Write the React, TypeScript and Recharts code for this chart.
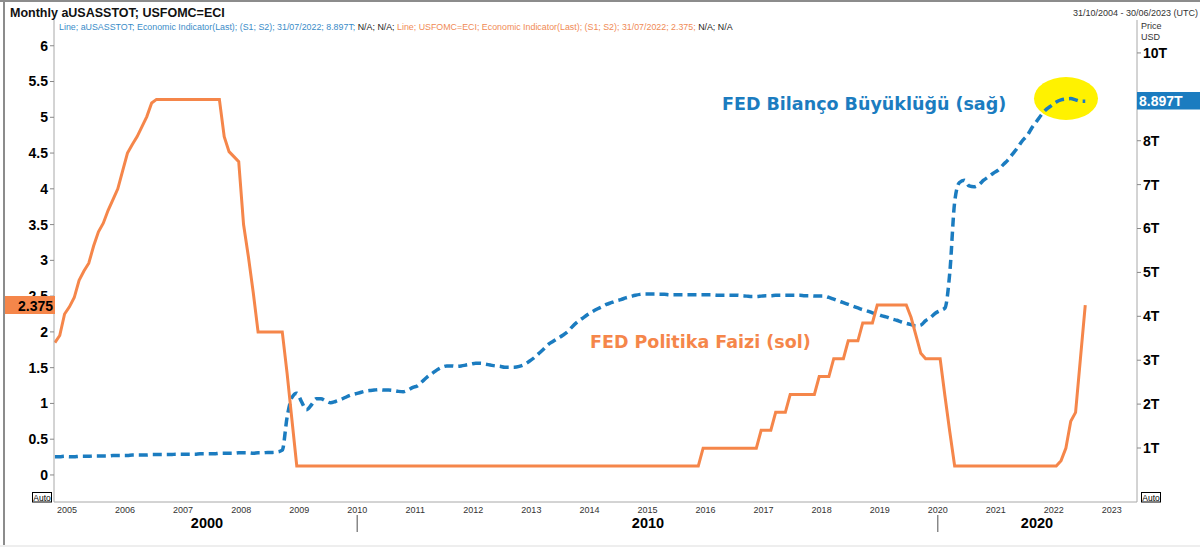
import React from "react";
import { LineChart, Line, XAxis, YAxis } from "recharts";

const FONT = "'Liberation Sans', Arial, Helvetica, sans-serif";
const WIDE_FONT = "'DejaVu Sans', Verdana, sans-serif";
const ORANGE = "#F5864A";
const BLUE = "#1B7CC0";

// monthly series, first point = October 2004
const START_YEAR = 2004;
const START_MONTH = 10;

// FED policy rate (left axis, %)
const FED_RATE = [
  1.85, 1.95, 2.25,
  2.35, 2.48, 2.72, 2.85, 2.96, 3.2, 3.4, 3.52, 3.7, 3.85, 4.0, 4.25,
  4.5, 4.62, 4.73, 4.87, 5.01, 5.2, 5.25, 5.25, 5.25, 5.25, 5.25, 5.25,
  5.25, 5.25, 5.25, 5.25, 5.25, 5.25, 5.25, 5.25, 4.73, 4.52, 4.45, 4.38,
  3.5, 3.05, 2.55, 2.0, 2.0, 2.0, 2.0, 2.0, 2.0, 1.42, 0.77, 0.125,
  0.125, 0.125, 0.125, 0.125, 0.125, 0.125, 0.125, 0.125, 0.125, 0.125, 0.125, 0.125,
  0.125, 0.125, 0.125, 0.125, 0.125, 0.125, 0.125, 0.125, 0.125, 0.125, 0.125, 0.125,
  0.125, 0.125, 0.125, 0.125, 0.125, 0.125, 0.125, 0.125, 0.125, 0.125, 0.125, 0.125,
  0.125, 0.125, 0.125, 0.125, 0.125, 0.125, 0.125, 0.125, 0.125, 0.125, 0.125, 0.125,
  0.125, 0.125, 0.125, 0.125, 0.125, 0.125, 0.125, 0.125, 0.125, 0.125, 0.125, 0.125,
  0.125, 0.125, 0.125, 0.125, 0.125, 0.125, 0.125, 0.125, 0.125, 0.125, 0.125, 0.125,
  0.125, 0.125, 0.125, 0.125, 0.125, 0.125, 0.125, 0.125, 0.125, 0.125, 0.125, 0.375,
  0.375, 0.375, 0.375, 0.375, 0.375, 0.375, 0.375, 0.375, 0.375, 0.375, 0.375, 0.625,
  0.625, 0.625, 0.875, 0.875, 0.875, 1.125, 1.125, 1.125, 1.125, 1.125, 1.125, 1.375,
  1.375, 1.375, 1.625, 1.625, 1.625, 1.875, 1.875, 1.875, 2.125, 2.125, 2.125, 2.375,
  2.375, 2.375, 2.375, 2.375, 2.375, 2.375, 2.2, 1.95, 1.7, 1.625, 1.625, 1.625,
  1.625, 1.1, 0.6, 0.125, 0.125, 0.125, 0.125, 0.125, 0.125, 0.125, 0.125, 0.125,
  0.125, 0.125, 0.125, 0.125, 0.125, 0.125, 0.125, 0.125, 0.125, 0.125, 0.125, 0.125,
  0.125, 0.2, 0.375, 0.75, 0.875, 1.625, 2.375,
];

// FED balance sheet size (right axis, trillion USD)
const BALANCE = [
  0.8, 0.8, 0.81,
  0.8, 0.8, 0.81, 0.81, 0.81, 0.82, 0.82, 0.82, 0.82, 0.83, 0.83, 0.83,
  0.83, 0.84, 0.84, 0.84, 0.84, 0.85, 0.85, 0.85, 0.85, 0.85, 0.86, 0.86,
  0.86, 0.86, 0.86, 0.87, 0.87, 0.87, 0.87, 0.88, 0.88, 0.88, 0.88, 0.89,
  0.89, 0.89, 0.88, 0.89, 0.89, 0.9, 0.9, 0.91, 0.95, 1.7, 2.15, 2.25,
  2.05, 1.87, 1.98, 2.12, 2.12, 2.07, 2.03, 2.06, 2.1, 2.15, 2.2, 2.23,
  2.26, 2.29, 2.31, 2.32, 2.33, 2.32, 2.32, 2.31, 2.29, 2.28, 2.32, 2.38,
  2.42, 2.52, 2.62, 2.7, 2.78, 2.84, 2.87, 2.87, 2.86, 2.87, 2.89, 2.91,
  2.93, 2.93, 2.91, 2.89, 2.87, 2.86, 2.84, 2.84, 2.84, 2.86, 2.9, 2.97,
  3.05, 3.15, 3.25, 3.36, 3.43, 3.5, 3.57, 3.65, 3.77, 3.87, 3.95, 4.03,
  4.1, 4.16, 4.21, 4.27, 4.31, 4.35, 4.38, 4.42, 4.45, 4.48, 4.5, 4.51,
  4.51, 4.51, 4.5, 4.5, 4.49, 4.49, 4.49, 4.49, 4.49, 4.49, 4.49, 4.49,
  4.49, 4.49, 4.48, 4.48, 4.48, 4.48, 4.48, 4.47, 4.46, 4.45, 4.45, 4.46,
  4.47, 4.47, 4.48, 4.48, 4.48, 4.48, 4.48, 4.48, 4.47, 4.47, 4.46, 4.46,
  4.46, 4.43, 4.39, 4.35, 4.31, 4.27, 4.23, 4.19, 4.15, 4.12, 4.08, 4.05,
  4.01, 3.98, 3.94, 3.91, 3.87, 3.84, 3.81, 3.78, 3.8, 3.9, 3.97, 4.07,
  4.13, 4.19, 5.0, 6.6, 7.05, 7.1, 6.97, 6.95, 7.0, 7.1, 7.18, 7.26,
  7.33, 7.45, 7.56, 7.7, 7.84, 8.0, 8.12, 8.3, 8.45, 8.6, 8.72, 8.8,
  8.88, 8.93, 8.95, 8.96, 8.93, 8.9, 8.897,
];

const YEARS = [2005, 2006, 2007, 2008, 2009, 2010, 2011, 2012, 2013, 2014, 2015, 2016, 2017, 2018, 2019, 2020, 2021, 2022, 2023];
const DECADE_BREAKS = [2010, 2020];
const DECADE_LABELS = ["2000", "2010", "2020"];
const LEFT_TICKS = [0, 0.5, 1, 1.5, 2, 2.5, 3, 3.5, 4, 4.5, 5, 5.5, 6];
// 9T is hidden behind the last-value box in the reference
const RIGHT_TICKS = [1, 2, 3, 4, 5, 6, 7, 8, 10];
const X_DOMAIN = [2004.776, 2023.433];
const LEFT_DOMAIN = [-0.378, 6.36];
const RIGHT_DOMAIN = [-0.23, 10.75];

const LAST_RATE = "2.375";
const LAST_BALANCE = "8.897T";

const rows = FED_RATE.map((rate, i) => ({
  t: START_YEAR + (START_MONTH - 1 + i + 0.5) / 12,
  rate,
  bal: BALANCE[i],
}));

const YearTick = (p: any) => (
  <text x={p.x} y={p.y} dy={7} textAnchor="middle" fontSize={9} fill="#333" fontFamily={FONT}>
    {p.payload.value}
  </text>
);

const DecadeTick = (p: any) => (
  <line x1={p.x} x2={p.x} y1={p.y + 1} y2={p.y + 18} stroke="#888" strokeWidth={1.5} />
);

export default function App() {
  return (
    <div style={{ position: "relative", width: 1200, height: 547, background: "#fff", overflow: "hidden", fontFamily: FONT }}>
      <style>{`html,body{margin:0;padding:0;background:#fff}`}</style>
      <div style={{ position: "absolute", left: 0, top: 0, width: 1200, height: 2, background: "#8c8c8c" }} />
      <div style={{ position: "absolute", left: 3, top: 0, width: 2, height: 545, background: "#8c8c8c" }} />
      <div style={{ position: "absolute", left: 0, top: 545, width: 1200, height: 2, background: "#eeeeee" }} />
      <div style={{ position: "absolute", left: 1034, top: 77, width: 64, height: 43, borderRadius: "50%", background: "#FFF200" }} />
      <div style={{ position: "absolute", left: 0, top: 0 }}>
        <LineChart width={1200} height={547} data={rows} margin={{ top: 20, right: 0, bottom: 0, left: 0 }}>
          <XAxis xAxisId="top" orientation="top" dataKey="t" type="number" domain={X_DOMAIN} allowDataOverflow height={0} tick={false} tickLine={false} axisLine={{ stroke: "#a8a8a8" }} />
          <XAxis dataKey="t" type="number" domain={X_DOMAIN} allowDataOverflow ticks={YEARS} interval={0} height={12} tickSize={0} tickMargin={4} tick={<YearTick />} tickLine={false} axisLine={{ stroke: "#a8a8a8" }} />
          <XAxis xAxisId="dec" dataKey="t" type="number" domain={X_DOMAIN} allowDataOverflow ticks={DECADE_BREAKS} interval={0} height={33} tickSize={0} tickMargin={0} tick={<DecadeTick />} tickLine={false} axisLine={false} />
          <YAxis yAxisId="left" orientation="left" width={54} type="number" domain={LEFT_DOMAIN} allowDataOverflow ticks={LEFT_TICKS} interval={0} tickSize={4} tickMargin={2} tick={{ fontSize: 14, fontWeight: 700, fill: "#000", fontFamily: FONT }} tickLine={{ stroke: "#888" }} axisLine={{ stroke: "#a8a8a8" }} />
          <YAxis yAxisId="right" orientation="right" width={63} type="number" domain={RIGHT_DOMAIN} allowDataOverflow ticks={RIGHT_TICKS} interval={0} tickSize={4} tickMargin={2} tickFormatter={(v: number) => `${v}T`} tick={{ fontSize: 14, fontWeight: 700, fill: "#000", fontFamily: FONT }} tickLine={{ stroke: "#888" }} axisLine={{ stroke: "#a8a8a8" }} />
          <Line yAxisId="right" dataKey="bal" type="monotone" stroke={BLUE} strokeWidth={3.5} strokeDasharray="9 5" dot={false} activeDot={false} isAnimationActive={false} />
          <Line yAxisId="left" dataKey="rate" type="linear" stroke={ORANGE} strokeWidth={3} dot={false} activeDot={false} isAnimationActive={false} />
        </LineChart>
      </div>
      <svg width={1200} height={547} style={{ position: "absolute", left: 0, top: 0, pointerEvents: "none" }} fontFamily={FONT}>
        <text x={10} y={17} fontSize={12.5} fontWeight={700} fill="#111">Monthly aUSASSTOT; USFOMC=ECI</text>
        <text x={1198} y={16} fontSize={9} fill="#333" textAnchor="end">31/10/2004 - 30/06/2023 (UTC)</text>
        <text x={59} y={30} fontSize={8.85}>
          <tspan fill="#3a8cc8">Line; aUSASSTOT; Economic Indicator(Last); (S1; S2); 31/07/2022; 8.897T; </tspan>
          <tspan fill="#222">N/A; N/A; </tspan>
          <tspan fill="#f08a55">Line; USFOMC=ECI; Economic Indicator(Last); (S1; S2); 31/07/2022; 2.375; </tspan>
          <tspan fill="#222">N/A; N/A</tspan>
        </text>
        <text x={1141} y={29} fontSize={9} fill="#333">Price</text>
        <text x={1141} y={40} fontSize={9} fill="#333">USD</text>
        <text x={722} y={110} fontSize={17.5} fontWeight={700} fill={BLUE} fontFamily={WIDE_FONT}>FED Bilanço Büyüklüğü (sağ)</text>
        <text x={590} y={348} fontSize={17.5} fontWeight={700} fill={ORANGE} fontFamily={WIDE_FONT}>FED Politika Faizi (sol)</text>
        <text x={207} y={528} fontSize={14.5} fontWeight={700} fill="#000" textAnchor="middle">{DECADE_LABELS[0]}</text>
        <text x={648} y={528} fontSize={14.5} fontWeight={700} fill="#000" textAnchor="middle">{DECADE_LABELS[1]}</text>
        <text x={1037} y={528} fontSize={14.5} fontWeight={700} fill="#000" textAnchor="middle">{DECADE_LABELS[2]}</text>
        <rect x={5} y={296} width={50} height={18} fill={ORANGE} />
        <text x={53} y={310.5} fontSize={14} fontWeight={700} fill="#000" textAnchor="end">{LAST_RATE}</text>
        <rect x={1137} y={92} width={63} height={17.5} fill={BLUE} />
        <text x={1139} y={106} fontSize={14} fontWeight={700} fill="#fff">{LAST_BALANCE}</text>
        <rect x={32.5} y={492.5} width={19} height={9.5} fill="#fff" stroke="#000" strokeWidth={1} />
        <text x={42} y={500.5} fontSize={8.5} fill="#000" textAnchor="middle">Auto</text>
        <rect x={1141.5} y={492.5} width={19} height={9.5} fill="#fff" stroke="#000" strokeWidth={1} />
        <text x={1151} y={500.5} fontSize={8.5} fill="#000" textAnchor="middle">Auto</text>
      </svg>
    </div>
  );
}
